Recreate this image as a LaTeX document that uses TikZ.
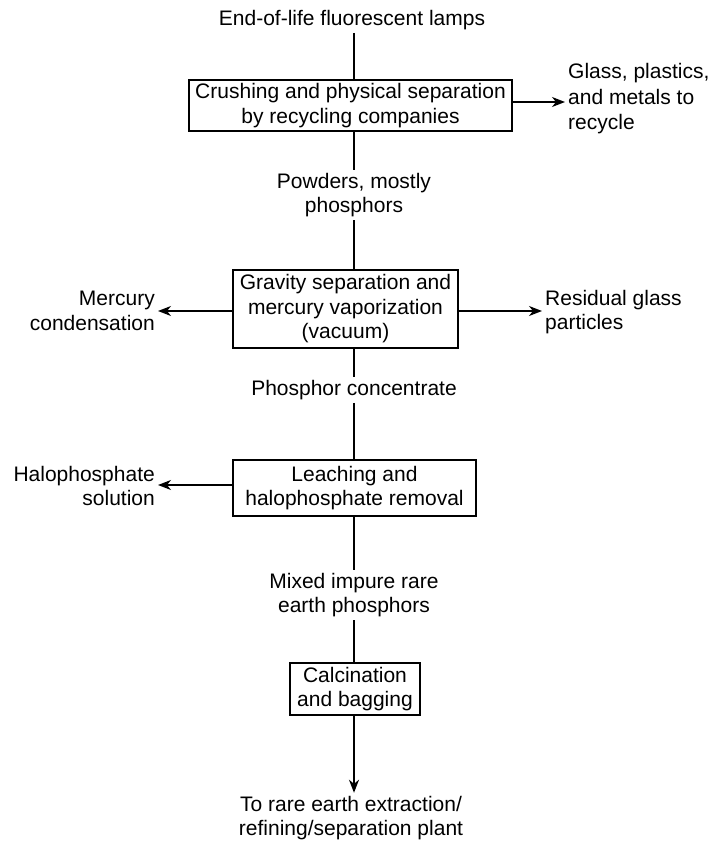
\documentclass[tikz,border=0pt]{standalone}
\usepackage{fontspec}
\setmainfont{Liberation Sans}
\usetikzlibrary{arrows.meta}
\begin{document}
\begin{tikzpicture}[x=1pt,y=-1pt,
  every node/.style={font=\fontsize{21}{24.5}\selectfont},
  txt/.style={inner sep=3pt,align=center},
  procbox/.style={draw,line width=1.4pt,inner sep=0pt,align=center},
  conn/.style={line width=1.4pt},
  arr/.style={line width=1.4pt,-{Stealth[length=13pt,width=10pt,inset=4pt]}}]
\useasboundingbox (0,0) rectangle (714,843);
\node[txt] (title) at (352,20) {End-of-life fluorescent lamps};
\node[procbox,minimum width=323pt,minimum height=51pt] (box1) at (350.5,105.5)
  {Crushing and physical separation\\by recycling companies};
\node[txt,anchor=west,align=left,font=\fontsize{21}{25.5}\selectfont] (glass) at (565,99)
  {Glass, plastics,\\and metals to\\recycle};
\node[txt] (powders) at (354,195) {Powders, mostly\\phosphors};
\node[procbox,minimum width=225pt,minimum height=78pt] (box2) at (345.5,309)
  {Gravity separation and\\mercury vaporization\\(vacuum)};
\node[txt,anchor=east,align=right] (mercury) at (158,311) {Mercury\\condensation};
\node[txt,anchor=west,align=left] (residual) at (542,312) {Residual glass\\particles};
\node[txt] (phos) at (354,390) {Phosphor concentrate};
\node[procbox,minimum width=243pt,minimum height=56pt] (box3) at (354.5,488)
  {Leaching and\\halophosphate removal};
\node[txt,anchor=east,align=right] (halo) at (158,486) {Halophosphate\\solution};
\node[txt] (mixed) at (354,595) {Mixed impure rare\\earth phosphors};
\node[procbox,minimum width=130pt,minimum height=52pt] (box4) at (355,689)
  {Calcination\\and bagging};
\node[txt] (final) at (351,818) {To rare earth extraction/\\refining/separation plant};

\draw[conn] (title.south -| powders) -- (box1.north -| powders);
\draw[arr] ([yshift=3.5pt]box1.east) -- ([yshift=3.5pt]box1.east -| glass.west);
\draw[conn] (box1.south -| powders) -- (powders.north);
\draw[conn] (powders.south) -- (box2.north -| powders);
\draw[arr] ([yshift=-2pt]box2.west) -- ([yshift=-2pt]box2.west -| mercury.east);
\draw[arr] ([yshift=-2pt]box2.east) -- ([yshift=-2pt]box2.east -| residual.west);
\draw[conn] (box2.south -| phos) -- (phos.north);
\draw[conn] (phos.south) -- (box3.north -| phos);
\draw[arr] ([yshift=3pt]box3.west) -- ([yshift=3pt]box3.west -| halo.east);
\draw[conn] (box3.south -| mixed) -- (mixed.north);
\draw[conn] (mixed.south) -- (box4.north -| mixed);
\draw[arr] (box4.south -| mixed) -- (final.north -| mixed);
\end{tikzpicture}
\end{document}
